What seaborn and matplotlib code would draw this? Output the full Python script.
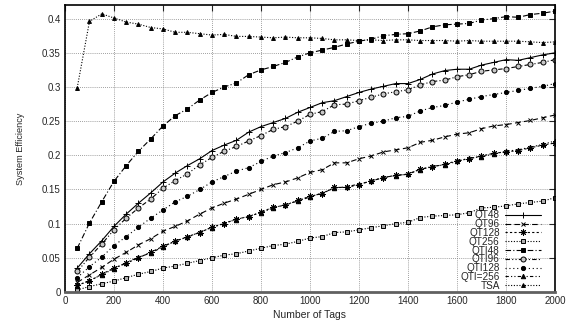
import matplotlib
matplotlib.use("Agg")
import matplotlib.pyplot as plt
import seaborn as sns

tags = [50, 100, 150, 200, 250, 300, 350, 400, 450, 500,
        550, 600, 650, 700, 750, 800, 850, 900, 950, 1000,
        1050, 1100, 1150, 1200, 1250, 1300, 1350, 1400, 1450, 1500,
        1550, 1600, 1650, 1700, 1750, 1800, 1850, 1900, 1950, 2000]

qt48 = [0.035, 0.056, 0.075, 0.096, 0.114, 0.130, 0.145, 0.161, 0.174, 0.185,
        0.195, 0.207, 0.215, 0.222, 0.234, 0.242, 0.248, 0.254, 0.263, 0.270,
        0.277, 0.280, 0.286, 0.292, 0.297, 0.301, 0.305, 0.305, 0.311, 0.319,
        0.324, 0.326, 0.326, 0.332, 0.336, 0.340, 0.339, 0.343, 0.347, 0.350]
qt96 = [0.014, 0.025, 0.036, 0.048, 0.058, 0.069, 0.078, 0.089, 0.096, 0.104,
        0.114, 0.123, 0.130, 0.136, 0.143, 0.150, 0.157, 0.161, 0.167, 0.175,
        0.179, 0.189, 0.189, 0.195, 0.199, 0.205, 0.208, 0.211, 0.219, 0.222,
        0.227, 0.231, 0.233, 0.239, 0.243, 0.245, 0.248, 0.251, 0.255, 0.259]
qt128 = [0.010, 0.016, 0.026, 0.035, 0.042, 0.050, 0.058, 0.067, 0.074, 0.081,
         0.087, 0.095, 0.100, 0.107, 0.110, 0.117, 0.124, 0.127, 0.134, 0.140,
         0.144, 0.153, 0.153, 0.157, 0.163, 0.167, 0.171, 0.172, 0.180, 0.183,
         0.187, 0.192, 0.195, 0.199, 0.203, 0.205, 0.207, 0.211, 0.215, 0.218]
qt256 = [0.003, 0.008, 0.012, 0.016, 0.021, 0.026, 0.030, 0.035, 0.038, 0.042,
         0.046, 0.050, 0.054, 0.056, 0.060, 0.064, 0.068, 0.070, 0.074, 0.079,
         0.081, 0.087, 0.088, 0.091, 0.094, 0.097, 0.100, 0.102, 0.109, 0.111,
         0.112, 0.113, 0.116, 0.123, 0.124, 0.126, 0.129, 0.131, 0.133, 0.138]
qti48 = [0.064, 0.101, 0.132, 0.162, 0.185, 0.206, 0.224, 0.243, 0.258, 0.268,
         0.281, 0.292, 0.300, 0.306, 0.318, 0.325, 0.330, 0.336, 0.344, 0.350,
         0.354, 0.358, 0.363, 0.367, 0.370, 0.375, 0.377, 0.378, 0.382, 0.388,
         0.391, 0.392, 0.393, 0.398, 0.400, 0.403, 0.402, 0.406, 0.408, 0.411]
qti96 = [0.030, 0.051, 0.070, 0.091, 0.108, 0.123, 0.136, 0.152, 0.163, 0.173,
         0.186, 0.197, 0.206, 0.213, 0.221, 0.229, 0.238, 0.242, 0.250, 0.260,
         0.264, 0.274, 0.275, 0.280, 0.285, 0.290, 0.293, 0.296, 0.303, 0.308,
         0.310, 0.315, 0.318, 0.323, 0.325, 0.327, 0.330, 0.333, 0.336, 0.340]
qti128 = [0.021, 0.037, 0.051, 0.068, 0.081, 0.095, 0.108, 0.120, 0.132, 0.140,
          0.150, 0.161, 0.169, 0.177, 0.182, 0.191, 0.199, 0.204, 0.211, 0.221,
          0.225, 0.235, 0.236, 0.242, 0.247, 0.250, 0.255, 0.257, 0.265, 0.270,
          0.273, 0.278, 0.282, 0.286, 0.289, 0.292, 0.295, 0.298, 0.301, 0.305]
qti256 = [0.009, 0.017, 0.025, 0.034, 0.043, 0.051, 0.057, 0.066, 0.075, 0.080,
          0.088, 0.094, 0.101, 0.106, 0.111, 0.116, 0.123, 0.128, 0.133, 0.139,
          0.145, 0.152, 0.154, 0.158, 0.162, 0.168, 0.170, 0.173, 0.179, 0.184,
          0.186, 0.191, 0.196, 0.198, 0.202, 0.206, 0.208, 0.212, 0.216, 0.221]
tsa = [0.299, 0.396, 0.407, 0.401, 0.395, 0.392, 0.387, 0.385, 0.380, 0.380,
       0.378, 0.376, 0.377, 0.374, 0.374, 0.373, 0.372, 0.373, 0.372, 0.372,
       0.371, 0.369, 0.369, 0.368, 0.369, 0.368, 0.369, 0.369, 0.368, 0.368,
       0.368, 0.367, 0.368, 0.367, 0.367, 0.367, 0.367, 0.366, 0.365, 0.366]

x_ticks = [0, 200, 400, 600, 800, 1000, 1200, 1400, 1600, 1800, 2000]
y_ticks = [0, 0.05, 0.1, 0.15, 0.2, 0.25, 0.3, 0.35, 0.4]
y_tick_labels = ["0", "0.05", "0.1", "0.15", "0.2", "0.25", "0.3", "0.35", "0.4"]

# label, values, linestyle, marker, markersize, facecolor
SERIES = [
    ("QT48", qt48, "-", "+", 4.5, "black"),
    ("QT96", qt96, (0, (5, 3)), "x", 3.5, "black"),
    ("QT128", qt128, (0, (2, 2)), (8, 2, 0), 4.5, "black"),
    ("QT256", qt256, (0, (1, 1.5)), "s", 3.2, "#b0b0b0"),
    ("QTI48", qti48, (0, (5, 2, 1, 2)), "s", 3.2, "black"),
    ("QTI96", qti96, (0, (4, 2, 1, 2, 1, 2)), "o", 3.6, "#c8c8c8"),
    ("QTI128", qti128, (0, (1, 2.5)), "o", 3.0, "black"),
    ("QTI=256", qti256, (0, (3, 2, 1, 2, 1, 2)), "^", 3.2, "black"),
    ("TSA", tsa, (0, (1, 1.5)), "^", 2.8, "black"),
]

sns.set_style("white")
plt.rcParams["font.family"] = ["Liberation Sans", "DejaVu Sans"]

fig = plt.figure(figsize=(5.67, 3.24), dpi=100)
ax = fig.add_axes([0.1146, 0.0988, 0.8642, 0.8858])

for label, values, ls, marker, ms, face in SERIES:
    sns.lineplot(
        x=tags, y=values, ax=ax, color="black", linestyle=ls, lw=0.8,
        marker=marker, markersize=ms, markerfacecolor=face,
        markeredgecolor="black", markeredgewidth=0.7, label=label,
    )

ax.set_xlim(0, 2000)
ax.set_ylim(0, 0.42)
ax.set_xticks(x_ticks)
ax.set_xticklabels([str(t) for t in x_ticks])
ax.set_yticks(y_ticks)
ax.set_yticklabels(y_tick_labels)
ax.tick_params(direction="in", length=4, width=0.8, labelsize=7,
               top=True, right=True, pad=3)
ax.grid(True, color="#808080", linestyle=(0, (1, 1.5)), lw=0.6)
for side in ["top", "left", "right"]:
    ax.spines[side].set_linewidth(1.2)
    ax.spines[side].set_color("black")
ax.spines["bottom"].set_linewidth(2.0)
ax.spines["bottom"].set_color("#606060")

ax.set_xlabel("Number of Tags", fontsize=7.5, labelpad=3)
ax.set_ylabel("System Efficiency", fontsize=6.6, labelpad=12)

handles, labels = ax.get_legend_handles_labels()
ax.legend(handles, labels, loc="lower right", bbox_to_anchor=(0.985, -0.02),
          frameon=False, markerfirst=False, fontsize=7.2, labelspacing=-0.12,
          handlelength=3.6, handletextpad=0.5, borderpad=0.2)

fig.savefig("out.png", dpi=100)
